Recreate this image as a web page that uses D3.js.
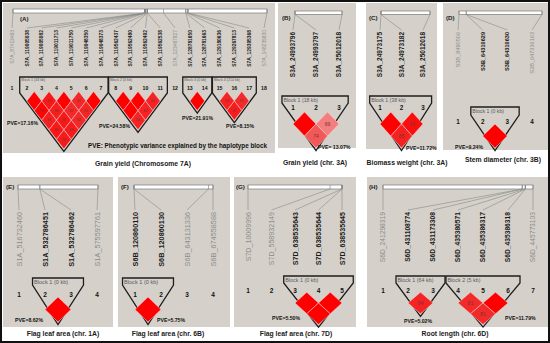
<!DOCTYPE html>
<html>
<head>
<meta charset="utf-8">
<script src="https://cdn.jsdelivr.net/npm/d3@7"></script>
<style>
  body { margin: 0; background: #fff; }
  svg { display: block; font-family: "Liberation Sans", Arial, sans-serif; }
</style>
</head>
<body>
<svg id="fig" width="550" height="343"></svg>
<script>
// Data: SNP names (position is the number after the underscore), blocks, D' values, PVE
const panelIds = ['A', 'B', 'C', 'D', 'E', 'F', 'G', 'H'];

const markersA = ['S7A_87413463', 'S7A_119005038', 'S7A_119005082', 'S7A_119011713', 'S7A_119011750',
  'S7A_119048350', 'S7A_119048373', 'S7A_119562437', 'S7A_119562480', 'S7A_119562492', 'S7A_119562538',
  'S7A_123467827', 'S7A_128781650', 'S7A_128781663', 'S7A_129180636', 'S7A_129267813', 'S7A_129395368',
  'S7A_148235830'];
const markersB = ['S3A_24993796', 'S3A_24993797', 'S3A_25012018'];
const markersC = ['S3A_24973175', 'S3A_24973182', 'S3A_25012018'];
const markersD = ['S3B_8490506', 'S3B_64310629', 'S3B_64310630', 'S3B_647336163'];
const markersE = ['S1A_516732460', 'S1A_532786451', 'S1A_532786462', 'S1A_575597761'];
const markersF = ['S6B_120860110', 'S6B_120860130', 'S6B_643131336', 'S6B_674558588'];
const markersG = ['S7D_10009996', 'S7D_558932149', 'S7D_638535643', 'S7D_638535644', 'S7D_638535645'];
const markersH = ['S6D_241298319', 'S6D_431108774', 'S6D_431173308', 'S6D_435380571', 'S6D_435386317',
  'S6D_435386318', 'S6D_445773103'];

// [first marker, last marker, label] (1-based)
const blocksA = [[2, 7, 'Block 1 (43 kb)'], [8, 11, 'Block 2 (0 kb)'], [13, 14, 'Block 3 (0 kb)'], [15, 17, 'Block 4 (214 kb)']];
const blocksB = [[1, 3, 'Block 1 (18 kb)']];
const blocksC = [[1, 3, 'Block 1 (38 kb)']];
const blocksD = [[2, 3, 'Block 1 (0 kb)']];
const blocksE = [[2, 3, 'Block 1 (0 kb)']];
const blocksF = [[1, 2, 'Block 1 (0 kb)']];
const blocksG = [[3, 5, 'Block 1 (0 kb)']];
const blocksH = [[2, 3, 'Block 1 (64 kb)'], [4, 6, 'Block 2 (5 kb)']];

// pairwise D' inside blocks: [i, j, D']
const ldA = [
  [2, 3, 1], [3, 4, 0.89], [4, 5, 1], [5, 6, 0.82], [6, 7, 1],
  [2, 4, 0.98], [3, 5, 0.86], [4, 6, 0.82], [5, 7, 0.83],
  [2, 5, 0.86], [3, 6, 0.89], [4, 7, 0.82],
  [2, 6, 0.89], [3, 7, 0.88],
  [2, 7, 0.88],
  [8, 9, 1], [9, 10, 1], [10, 11, 0.84], [8, 10, 1], [9, 11, 0.84], [8, 11, 0.84],
  [13, 14, 1],
  [15, 16, 0.84], [16, 17, 0.81], [15, 17, 0.87]
];
const ldB = [[1, 2, 1], [2, 3, 0.69], [1, 3, 0.74]];
const ldC = [[1, 2, 1], [2, 3, 0.93], [1, 3, 0.85]];
const ldD = [[2, 3, 1]];
const ldE = [[2, 3, 1]];
const ldF = [[1, 2, 1]];
const ldG = [[3, 4, 1], [4, 5, 1], [3, 5, 1]];
const ldH = [[2, 3, 0.84], [4, 5, 0.81], [5, 6, 1], [4, 6, 0.81]];

const pveA = ['PVE=17.16%', 'PVE=24.58%', 'PVE=21.91%', 'PVE=8.15%'];
const pveB = ['PVE= 13.07%'];
const pveC = ['PVE=11.72%'];
const pveD = ['PVE=9.24%'];
const pveE = ['PVE=8.62%'];
const pveF = ['PVE=5.75%'];
const pveG = ['PVE=5.50%'];
const pveH = ['PVE=5.02%', 'PVE=11.79%'];

const titles = ['Grain yield (Chromosome 7A)', 'Grain yield (chr. 3A)', 'Biomass weight (chr. 3A)',
  'Stem diameter (chr. 3B)', 'Flag leaf area (chr. 1A)', 'Flag leaf area (chr. 6B)',
  'Flag leaf area (chr. 7D)', 'Root length (chr. 6D)'];
const pveNote = 'PVE: Phenotypic variance explained by the haplotype block';

// Layout (pixels)
const layout = {
  A: { bg: [3, 3, 272, 150], tag: [20, 21], bar: [13, 9, 254, 4], mx: [12, 264], labTop: 30, labFs: 4.9,
       numY: 88, numFs: 5.2, yc: 101, hh: 9.6, boxTop: 77, sh: 16, pad: 0.96, blkFs: 3.6, ldFs: 3.6,
       pvePos: [[7, 125], [99, 128], [182, 120], [226, 128]], titlePos: [143, 165.5] },
  B: { bg: [278, 3, 78, 145], tag: [282, 20], bar: [295, 11, 47, 3.5], mx: [293, 339], labTop: 32, labFs: 6.5,
       numY: 108, numFs: 6.3, yc: 124, hh: 12, boxTop: 96, sh: 7, pad: 0.8, blkFs: 5.2, ldFs: 5,
       pvePos: [[318, 149]], titlePos: [315, 164.5] },
  C: { bg: [366, 3, 71, 146], tag: [369, 20], bar: [381, 11, 49, 3.5], mx: [380, 423], labTop: 32, labFs: 6.5,
       numY: 108, numFs: 6.3, yc: 124, hh: 12, boxTop: 96, sh: 7, pad: 0.8, blkFs: 5.2, ldFs: 5,
       pvePos: [[406, 150]], titlePos: [407, 164.5] },
  D: { bg: [443, 3, 105, 147], tag: [446, 20], bar: [459, 11, 83, 3.5], mx: [458, 532], labTop: 32, labFs: 5.6,
       numY: 122, numFs: 6.3, yc: 136, hh: 12, boxTop: 107, sh: 8, pad: 0.96, blkFs: 5.2, ldFs: 5,
       pvePos: [[455, 149]], titlePos: [503, 161.5] },
  E: { bg: [3, 177, 110, 150], tag: [6, 189], bar: [18, 185, 80, 4], mx: [19, 97], labTop: 212, labFs: 7.3,
       numY: 295, numFs: 6.5, yc: 309.5, hh: 12.5, boxTop: 278, sh: 7, pad: 0.96, blkFs: 5.6, ldFs: 5.2,
       pvePos: [[15, 322]], titlePos: [63, 336] },
  F: { bg: [118, 177, 112, 150], tag: [121, 189], bar: [134, 185, 79, 4], mx: [135, 213], labTop: 212, labFs: 7.3,
       numY: 295, numFs: 6.5, yc: 309.5, hh: 12.5, boxTop: 278, sh: 7, pad: 0.96, blkFs: 5.6, ldFs: 5.2,
       pvePos: [[157, 322]], titlePos: [168, 336] },
  G: { bg: [234, 177, 122, 150], tag: [236, 189], bar: [248, 185, 94, 4], mx: [248, 342], labTop: 212, labFs: 7.1,
       numY: 291, numFs: 6.5, yc: 303, hh: 10.8, boxTop: 276, sh: 7, pad: 0.96, blkFs: 5.4, ldFs: 5.2,
       pvePos: [[272, 320]], titlePos: [296, 336] },
  H: { bg: [367, 177, 181, 150], tag: [369, 189], bar: [383, 185, 150, 4], mx: [383, 533], labTop: 212, labFs: 6.7,
       numY: 291, numFs: 6.5, yc: 303, hh: 10.8, boxTop: 276, sh: 7, pad: 0.96, blkFs: 5.4, ldFs: 5.2,
       pvePos: [[404, 323], [505, 320]], titlePos: [455, 336] }
};

const panelData = {
  A: [markersA, blocksA, ldA, pveA], B: [markersB, blocksB, ldB, pveB],
  C: [markersC, blocksC, ldC, pveC], D: [markersD, blocksD, ldD, pveD],
  E: [markersE, blocksE, ldE, pveE], F: [markersF, blocksF, ldF, pveF],
  G: [markersG, blocksG, ldG, pveG], H: [markersH, blocksH, ldH, pveH]
};

const svg = d3.select('#fig');
const panelGray = '#d5d1ca';

// D' -> colour (bright red for strong LD, pinker for weaker)
const ldColor = d3.scaleLinear()
  .domain([0.65, 0.8, 1])
  .range(['#f59a9a', '#f22c2c', '#ff0000']);

panelIds.forEach((id, k) => drawPanel(id, ...panelData[id], titles[k], layout[id]));

// note under panel A
svg.append('text')
  .attr('x', 88).attr('y', 148)
  .attr('font-size', 6.4).attr('font-weight', 'bold').attr('fill', '#111')
  .attr('textLength', 179).attr('lengthAdjust', 'spacingAndGlyphs')
  .text(pveNote);

// outer frame
svg.append('rect')
  .attr('x', 1).attr('y', 1).attr('width', 548).attr('height', 341)
  .attr('fill', 'none').attr('stroke', '#111').attr('stroke-width', 2);

function drawPanel(id, markers, blocks, ld, pve, title, L) {
  const g = svg.append('g').attr('class', 'panel-' + id);

  g.append('rect')
    .attr('x', L.bg[0]).attr('y', L.bg[1]).attr('width', L.bg[2]).attr('height', L.bg[3])
    .attr('fill', panelGray);

  g.append('text')
    .attr('x', L.tag[0]).attr('y', L.tag[1])
    .attr('font-size', 6.2).attr('font-weight', 'bold').attr('fill', '#222')
    .text('(' + id + ')');

  const pos = markers.map(m => +m.split('_')[1]);
  const [bx, by, bw, bh] = L.bar;
  const phys = d3.scaleLinear().domain(d3.extent(pos)).range([bx, bx + bw]);
  const x = d3.scalePoint().domain(d3.range(1, markers.length + 1)).range(L.mx);
  const hw = x.step() / 2;
  const inBlock = i => blocks.some(b => i >= b[0] && i <= b[1]);

  // chromosome bar
  g.append('rect')
    .attr('x', bx).attr('y', by).attr('width', bw).attr('height', bh)
    .attr('fill', '#fff').attr('stroke', '#7a7a7a').attr('stroke-width', 0.7);

  g.selectAll('line.tick').data(pos).join('line')
    .attr('class', 'tick')
    .attr('x1', p => phys(p)).attr('x2', p => phys(p))
    .attr('y1', by).attr('y2', by + bh)
    .attr('stroke', '#7a7a7a').attr('stroke-width', 0.6);

  // connectors bar -> name
  g.selectAll('line.conn').data(pos).join('line')
    .attr('class', 'conn')
    .attr('x1', p => phys(p)).attr('y1', by + bh)
    .attr('x2', (p, i) => x(i + 1)).attr('y2', L.labTop - 2)
    .attr('stroke', '#8a8a8a').attr('stroke-width', 0.6);

  // SNP names
  g.selectAll('text.snp').data(markers).join('text')
    .attr('class', 'snp')
    .attr('transform', (m, i) => `translate(${x(i + 1) + L.labFs * 0.36},${L.labTop}) rotate(-90)`)
    .attr('text-anchor', 'end')
    .attr('font-size', L.labFs)
    .attr('font-weight', (m, i) => inBlock(i + 1) ? 'bold' : 'normal')
    .attr('fill', (m, i) => inBlock(i + 1) ? '#1a1a1a' : '#8c8c8c')
    .text(m => m);

  // block outlines
  blocks.forEach(b => {
    const left = x(b[0]) - hw * 0.96;
    const right = x(b[1]) + hw * L.pad;
    const mid = (x(b[0]) + x(b[1])) / 2;
    const bottom = L.yc + (b[1] - b[0]) * L.hh + 2.5;
    const top = L.boxTop;
    const sh = top + L.sh;
    const path = d3.path();
    path.moveTo(left, top);
    path.lineTo(right, top);
    path.lineTo(right, sh);
    path.lineTo(mid, bottom);
    path.lineTo(left, sh);
    path.closePath();
    g.append('path').attr('d', path.toString())
      .attr('fill', 'none').attr('stroke', '#1e1e1e').attr('stroke-width', 1.3)
      .attr('stroke-linejoin', 'miter');
    g.append('text')
      .attr('x', left + 1.5).attr('y', top + L.blkFs + 0.4)
      .attr('font-size', L.blkFs).attr('fill', '#5a5a5a')
      .text(b[2]);
  });

  // marker numbers
  g.selectAll('text.num').data(markers).join('text')
    .attr('class', 'num')
    .attr('x', (m, i) => x(i + 1)).attr('y', L.numY + L.numFs * 0.36)
    .attr('text-anchor', 'middle')
    .attr('font-size', L.numFs).attr('font-weight', 'bold').attr('fill', '#111')
    .text((m, i) => i + 1);

  // LD diamonds
  const cx = d => (x(d[0]) + x(d[1])) / 2;
  const cy = d => L.yc + (d[1] - d[0] - 1) * L.hh;
  g.selectAll('path.ld').data(ld).join('path')
    .attr('class', 'ld')
    .attr('d', d => `M${cx(d)},${cy(d) - L.hh}L${cx(d) + hw},${cy(d)}L${cx(d)},${cy(d) + L.hh}L${cx(d) - hw},${cy(d)}Z`)
    .attr('fill', d => ldColor(d[2]))
    .attr('stroke', '#f4d4d4').attr('stroke-width', 0.5);

  g.selectAll('text.ldv').data(ld.filter(d => d[2] < 1)).join('text')
    .attr('class', 'ldv')
    .attr('x', cx).attr('y', d => cy(d) + L.ldFs * 0.36)
    .attr('text-anchor', 'middle')
    .attr('font-size', L.ldFs).attr('fill', '#7a3434')
    .text(d => Math.round(d[2] * 100));

  // PVE labels
  pve.forEach((t, i) => {
    g.append('text')
      .attr('x', L.pvePos[i][0]).attr('y', L.pvePos[i][1])
      .attr('font-size', 5.2).attr('font-weight', 'bold').attr('fill', '#111')
      .text(t);
  });

  // panel title (below the grey area)
  g.append('text')
    .attr('x', L.titlePos[0]).attr('y', L.titlePos[1])
    .attr('text-anchor', 'middle')
    .attr('font-size', 6.8).attr('font-weight', 'bold').attr('fill', '#1a1a1a')
    .text(title);
}
</script>
</body>
</html>
